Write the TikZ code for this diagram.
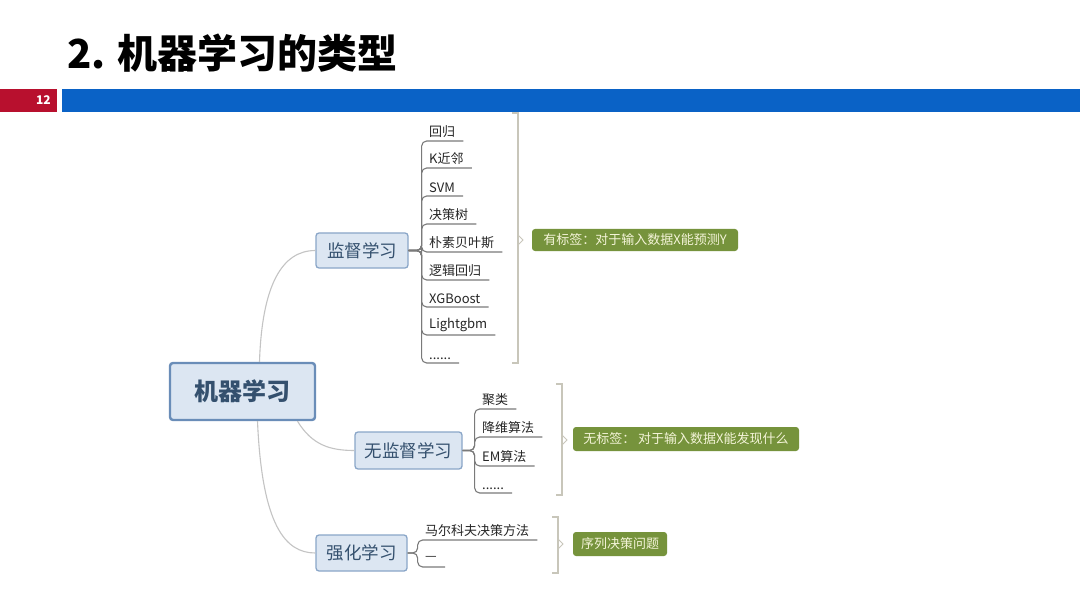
\documentclass[tikz,border=0pt]{standalone}
\usepackage{fontspec}
\setmainfont{Noto Sans CJK SC}
\definecolor{barblue}{HTML}{0A62C6}
\definecolor{badgered}{HTML}{B8102E}
\definecolor{boxfill}{HTML}{DCE6F2}
\definecolor{boxline}{HTML}{8AA6C8}
\definecolor{rootline}{HTML}{6A8DB8}
\definecolor{boxtext}{HTML}{34506E}
\definecolor{labelgreen}{HTML}{76933C}
\definecolor{labeltext}{HTML}{F4F4D8}
\definecolor{linkgray}{HTML}{C4C4C4}
\definecolor{leafgray}{HTML}{7A7A7A}
\definecolor{bracegray}{HTML}{C8C6BA}
\tikzset{
  topic/.style={draw=boxline, line width=1.3pt, fill=boxfill, rounded corners=3pt,
    text=boxtext, font=\fontsize{17.5}{20}\selectfont, inner sep=0pt},
  roottopic/.style={topic, draw=rootline, line width=2.4pt, font=\fontsize{24}{27}\selectfont\bfseries},
  leaf/.style={anchor=south west, inner xsep=8pt, inner ysep=3pt, text=black!85,
    font=\fontsize{13}{15}\selectfont},
  leafline/.style={draw=leafgray, line width=1.1pt, rounded corners=5pt},
  link/.style={draw=linkgray, line width=1.1pt},
  brace/.style={draw=bracegray, line width=1.4pt},
  note/.style={fill=labelgreen, rounded corners=3pt, text=labeltext, inner sep=0pt,
    font=\fontsize{13}{15}\selectfont}
}
\begin{document}
\begin{tikzpicture}[x=1pt,y=-1pt]
\useasboundingbox[fill=white] (0,0) rectangle (1080,607);

% title and header bar
\node[anchor=west, font=\fontsize{40}{44}\selectfont\bfseries, inner sep=0pt] (title) at (67,53) {2. 机器学习的类型};
\fill[badgered] (0,89) rectangle (57,112);
\node[anchor=east, text=white, font=\fontsize{12}{14}\selectfont\bfseries, inner sep=0pt] (pagenum) at (51,100.5) {12};
\fill[barblue] (62,89) rectangle (1080,112);

% topics
\node[roottopic, minimum width=145pt, minimum height=57pt] (root) at (242.5,391.5) {机器学习};
\node[topic, minimum width=92pt, minimum height=35pt] (sup) at (362,250.5) {监督学习};
\node[topic, minimum width=107pt, minimum height=37pt] (unsup) at (408.5,450.5) {无监督学习};
\node[topic, minimum width=91pt, minimum height=36pt] (rl) at (361.5,553) {强化学习};

% links from root
\draw[link] (root.north) ++(17,0) coordinate (r1s) .. controls (262,285) and (282,250.5) .. (sup.west);
\draw[link] (root.south) ++(55,0) coordinate (r2s) .. controls (312,445) and (330,450.5) .. (unsup.west);
\draw[link] (root.south) ++(15,0) coordinate (r3s) .. controls (262,525) and (285,553) .. (rl.west);

% supervised leaves
\node[leaf] (s1) at (421,141) {回归};
\node[leaf] (s2) at (421,168) {K近邻};
\node[leaf] (s3) at (421,196) {SVM};
\node[leaf] (s4) at (421,224) {决策树};
\node[leaf] (s5) at (421,252) {朴素贝叶斯};
\node[leaf] (s6) at (421,280) {逻辑回归};
\node[leaf] (s7) at (421,307) {XGBoost};
\node[leaf] (s8) at (421,335) {Lightgbm};
\node[leaf] (s9) at (421,363) {......};
\foreach \n in {s1,s2,s3,s4,s5,s6,s7,s8,s9}
  \draw[leafline] (sup.east) -- ++(13,0) |- (\n.south east);

% unsupervised leaves
\node[leaf] (u1) at (474,409) {聚类};
\node[leaf] (u2) at (474,437) {降维算法};
\node[leaf] (u3) at (474,466) {EM算法};
\node[leaf] (u4) at (474,493) {......};
\foreach \n in {u1,u2,u3,u4}
  \draw[leafline] (unsup.east) -- ++(12,0) |- (\n.south east);

% reinforcement leaves
\node[leaf] (q1) at (417,540) {马尔科夫决策方法};
\node[leaf] (q2) at (417,567) {\raisebox{3pt}{—}};
\foreach \n in {q1,q2}
  \draw[leafline] (rl.east) -- ++(10,0) |- (\n.south east);

% summary braces
\coordinate (bs) at (518,240);
\draw[brace] (512,113) -- (518,113) -- (518,363) -- (512,363);
\draw[brace, line width=1pt] (518,235) -- (523,240) -- (518,245);
\coordinate (bu) at (562,440);
\draw[brace] (556,384) -- (562,384) -- (562,495) -- (556,495);
\draw[brace, line width=1pt] (562,435) -- (567,440) -- (562,445);
\coordinate (br) at (558,544);
\draw[brace] (552,517) -- (558,517) -- (558,573) -- (552,573);
\draw[brace, line width=1pt] (558,539) -- (563,544) -- (558,549);

% summary labels
\node[note, minimum width=206pt, minimum height=22pt] (ls) at (635,240) {有标签：对于输入数据X能预测Y};
\node[note, minimum width=226pt, minimum height=24pt] (lu) at (686,439) {无标签：\ 对于输入数据X能发现什么};
\node[note, minimum width=94pt, minimum height=24pt] (lr) at (620,544) {序列决策问题};
\end{tikzpicture}
\end{document}
